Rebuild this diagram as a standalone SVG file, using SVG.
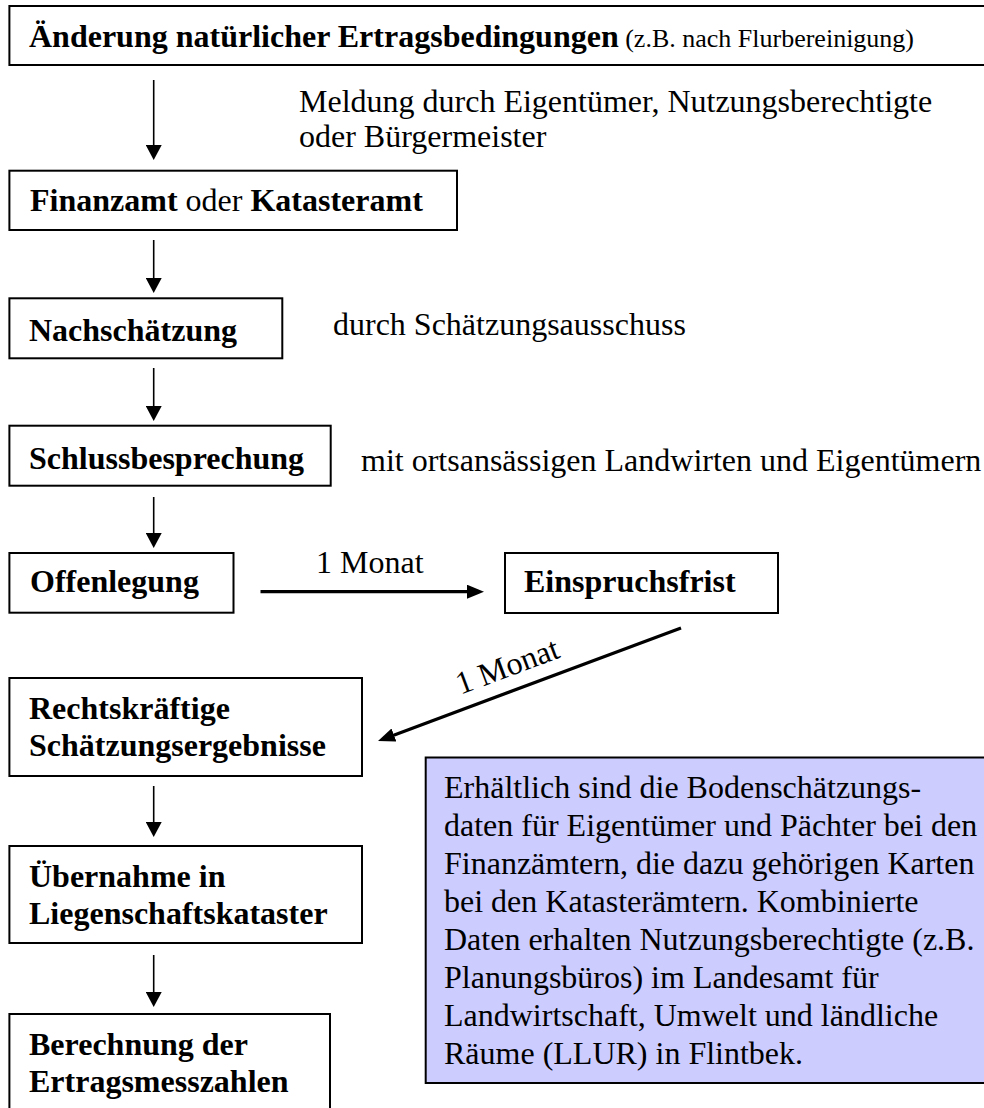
<svg xmlns="http://www.w3.org/2000/svg" width="984" height="1108" viewBox="0 0 984 1108">
  <style>
    text { font-family: "Liberation Serif", "Times New Roman", serif; font-size: 32px; fill: #000; }
    .b { font-weight: bold; }
    .small { font-size: 26px; font-weight: normal; }
    .box { fill: #fff; stroke: #000; stroke-width: 2; }
    .info { fill: #ccccff; stroke: #000; stroke-width: 2; }
    .thin { stroke: #000; stroke-width: 1.6; fill: none; }
    .thick { stroke: #000; stroke-width: 3.2; fill: none; }
  </style>
  <defs>
    <marker id="headThin" markerUnits="userSpaceOnUse" markerWidth="16" markerHeight="16" refX="1" refY="8" orient="auto">
      <path d="M0,0 L15,8 L0,16 z" fill="#000"/>
    </marker>
    <marker id="headThick" markerUnits="userSpaceOnUse" markerWidth="18" markerHeight="14" refX="1" refY="7" orient="auto">
      <path d="M0,0 L17,7 L0,14 z" fill="#000"/>
    </marker>
  </defs>
  <rect width="984" height="1108" fill="#fff"/>

  <g id="connectors">
    <line class="thin" x1="153.7" y1="80" x2="153.7" y2="146" marker-end="url(#headThin)"/>
    <line class="thin" x1="153.7" y1="240" x2="153.7" y2="279" marker-end="url(#headThin)"/>
    <line class="thin" x1="153.7" y1="368" x2="153.7" y2="407" marker-end="url(#headThin)"/>
    <line class="thin" x1="153.7" y1="497" x2="153.7" y2="534" marker-end="url(#headThin)"/>
    <line class="thin" x1="153.7" y1="786" x2="153.7" y2="823" marker-end="url(#headThin)"/>
    <line class="thin" x1="153.7" y1="955" x2="153.7" y2="993" marker-end="url(#headThin)"/>
    <line class="thick" x1="260.5" y1="591.7" x2="468" y2="591.7" marker-end="url(#headThick)"/>
    <line class="thick" x1="681" y1="628" x2="393" y2="735.4" marker-end="url(#headThick)"/>
    <text x="316" y="573">1 Monat</text>
    <text x="511" y="676" text-anchor="middle" transform="rotate(-20.5 511 676)">1 Monat</text>
    <text x="299" y="111.7">Meldung durch Eigentümer, Nutzungsberechtigte</text>
    <text x="299" y="147">oder Bürgermeister</text>
    <text x="333" y="335">durch Schätzungsausschuss</text>
    <text x="361" y="471">mit ortsansässigen Landwirten und Eigentümern</text>
  </g>

  <g id="node-aenderung">
    <rect class="box" x="9.4" y="6" width="990" height="59"/>
    <text x="29" y="47"><tspan class="b">Änderung natürlicher Ertragsbedingungen</tspan><tspan class="small"> (z.B. nach Flurbereinigung)</tspan></text>
  </g>

  <g id="node-finanzamt">
    <rect class="box" x="9.4" y="170.7" width="447.6" height="59.3"/>
    <text x="30" y="211"><tspan class="b">Finanzamt</tspan> oder <tspan class="b">Katasteramt</tspan></text>
  </g>

  <g id="node-nachschaetzung">
    <rect class="box" x="9.4" y="298.3" width="272.9" height="60"/>
    <text class="b" x="29" y="341">Nachschätzung</text>
  </g>

  <g id="node-schlussbesprechung">
    <rect class="box" x="9.4" y="425.7" width="321.3" height="60"/>
    <text class="b" x="29" y="469">Schlussbesprechung</text>
  </g>

  <g id="node-offenlegung">
    <rect class="box" x="9.4" y="553" width="224.1" height="59.7"/>
    <text class="b" x="30" y="592">Offenlegung</text>
  </g>

  <g id="node-einspruchsfrist">
    <rect class="box" x="505" y="553" width="273" height="60"/>
    <text class="b" x="524" y="592">Einspruchsfrist</text>
  </g>

  <g id="node-rechtskraeftig">
    <rect class="box" x="9.4" y="678" width="352.6" height="98"/>
    <text class="b" x="29" y="719">Rechtskräftige</text>
    <text class="b" x="29" y="756">Schätzungsergebnisse</text>
  </g>

  <g id="node-uebernahme">
    <rect class="box" x="9.4" y="846" width="352.6" height="97"/>
    <text class="b" x="29" y="887">Übernahme in</text>
    <text class="b" x="29" y="924">Liegenschaftskataster</text>
  </g>

  <g id="node-berechnung">
    <rect class="box" x="9.4" y="1014" width="320.6" height="110"/>
    <text class="b" x="29" y="1055">Berechnung der</text>
    <text class="b" x="29" y="1092">Ertragsmesszahlen</text>
  </g>

  <g id="node-info">
    <rect class="info" x="425.7" y="757.5" width="570" height="325.5"/>
    <text x="444" y="798">Erhältlich sind die Bodenschätzungs-</text>
    <text x="444" y="836">daten für Eigentümer und Pächter bei den</text>
    <text x="444" y="874">Finanzämtern, die dazu gehörigen Karten</text>
    <text x="444" y="912">bei den Katasterämtern. Kombinierte</text>
    <text x="444" y="950">Daten erhalten Nutzungsberechtigte (z.B.</text>
    <text x="444" y="988">Planungsbüros) im Landesamt für</text>
    <text x="444" y="1026">Landwirtschaft, Umwelt und ländliche</text>
    <text x="444" y="1064">Räume (LLUR) in Flintbek.</text>
  </g>
</svg>
